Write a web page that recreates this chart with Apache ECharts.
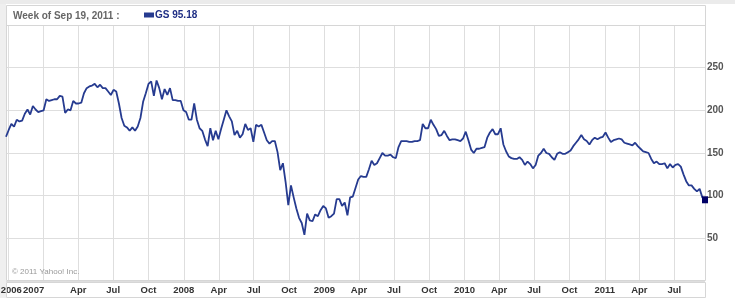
<!DOCTYPE html>
<html><head><meta charset="utf-8">
<script src="https://cdn.jsdelivr.net/npm/echarts@6/dist/echarts.min.js"></script>
<style>html,body{margin:0;padding:0;background:#fff}#c{width:735px;height:298px}</style>
</head><body><div id="c"></div>
<script>
const ticker = 'GS';
const headerLabel = 'Week of Sep 19, 2011 :';
const copyright = '\u00a9 2011 Yahoo! Inc.';
const startDate = '2006-09-25';
const endDate = '2011-09-19';
const closes = [
169,177,184,181,189,187,188,196,201,195,
205,201,198,199,200,213,211,212,213,213,
217,216,197,201,200,211,208,208,209,220,
226,228,229,231,227,230,226,226,222,218,
224,222,208,191,182,180,176,180,176,181,
191,210,220,231,234,217,235,226,213,225,
218,226,212,212,211,211,200,198,189,189,
208,189,179,176,166,158,179,165,176,166,
178,189,200,193,187,171,176,168,172,184,
177,179,163,183,181,183,174,165,161,164,
164,151,130,138,116,89,112,98,85,74,
68,54,79,71,70,78,76,83,88,85,
74,76,79,96,96,88,92,77,98,99,
109,119,123,122,122,131,141,136,138,144,
150,147,147,148,145,144,157,164,164,164,
163,163,164,164,165,184,179,179,189,183,
178,170,171,176,170,165,166,166,165,164,
167,175,165,154,150,155,155,156,157,168,
174,178,172,172,179,160,152,146,144,143,
143,145,142,136,140,137,132,136,147,150,
155,150,149,145,142,149,151,149,149,151,
153,158,162,166,171,166,164,160,165,168,
166,168,169,174,168,163,165,166,167,166,
162,161,160,159,162,158,155,152,151,150,
143,138,140,137,137,138,132,137,133,136,
137,134,125,117,112,112,108,105,108,98,
95.18
];
const tickDates = ['2006-10-01','2007-01-01','2007-04-01','2007-07-01','2007-10-01','2008-01-01','2008-04-01','2008-07-01','2008-10-01','2009-01-01','2009-04-01','2009-07-01','2009-10-01','2010-01-01','2010-04-01','2010-07-01','2010-10-01','2011-01-01','2011-04-01','2011-07-01'];
const tickLabels = ['2006','2007','Apr','Jul','Oct','2008','Apr','Jul','Oct','2009','Apr','Jul','Oct','2010','Apr','Jul','Oct','2011','Apr','Jul'];
const yMin = 0, yMax = 300, yStep = 50;

function ts(s){const p=s.split('-').map(Number);return Date.UTC(p[0],p[1]-1,p[2]);}
const DAY = 86400000;
const t0 = ts(startDate);
const last = closes.length - 1;
const seriesData = closes.map((v,i)=>{
  const item = {value:[t0 + i*7*DAY, v]};
  if (i === last) { item.symbol = 'rect'; item.symbolSize = [6,7]; item.itemStyle = {color:'#000066',borderWidth:0}; }
  return item;
});
const tickTs = tickDates.map(ts);
const labelMap = {};
tickTs.forEach((t,i)=>{ labelMap[t] = tickLabels[i]; });
const seriesName = ticker + ' ' + closes[last].toFixed(2);
const FONT = 'Liberation Sans, Arial, sans-serif';
const XFS = 9.5;

const chart = echarts.init(document.getElementById('c'), null, {renderer:'canvas'});
chart.setOption({
  animation:false,
  backgroundColor:'#fff',
  title:{text:headerLabel,left:13,top:10,padding:0,
    textStyle:{color:'#666',fontSize:10,fontWeight:'bold',fontFamily:FONT,lineHeight:12}},
  legend:{left:144,top:10,padding:0,itemWidth:10,itemHeight:5,itemGap:0,
    data:[{name:seriesName,icon:'rect'}],
    textStyle:{color:'#1f2f85',fontSize:10,fontWeight:'bold',fontFamily:FONT,padding:[0,0,0,-4]}},
  grid:{left:6,right:30,top:25,bottom:17,containLabel:false,outerBoundsMode:'none'},
  xAxis:{type:'value',min:t0,max:ts(endDate),scale:true,
    axisLine:{show:false},
    axisTick:{show:false,customValues:tickTs},
    splitLine:{show:true,lineStyle:{color:'#dedede',width:1}},
    axisLabel:{customValues:tickTs,showMinLabel:true,showMaxLabel:true,hideOverlap:false,
      margin:4,color:'#333',fontSize:XFS,fontWeight:'bold',fontFamily:FONT,
      formatter:function(v){
        const l = labelMap[v];
        if (l === undefined) return '';
        if (v === tickTs[0]) return '{a|'+l+'}';
        if (v === tickTs[1]) return '{b|'+l+'}';
        return l;
      },
      rich:{a:{padding:[0,0,0,6],color:'#333',fontSize:XFS,fontWeight:'bold',fontFamily:FONT},
            b:{padding:[0,20,0,0],color:'#333',fontSize:XFS,fontWeight:'bold',fontFamily:FONT}}
    }},
  yAxis:{type:'value',position:'right',min:yMin,max:yMax,interval:yStep,
    axisLine:{show:false},axisTick:{show:false},
    splitLine:{show:true,lineStyle:{color:'#dedede',width:1}},
    axisLabel:{margin:2,color:'#555',fontSize:10,fontWeight:'bold',fontFamily:FONT,
      formatter:function(v){return (v===yMin||v===yMax)?'':String(v);}}},
  series:[{name:seriesName,type:'line',data:seriesData,symbol:'none',showSymbol:true,showAllSymbol:true,clip:false,
    lineStyle:{color:'#263b90',width:1.8},itemStyle:{color:'#263b90'},z:20}],
  graphic:[
    {type:'rect',shape:{x:0,y:0,width:6,height:298},style:{fill:'#efefef'},z:-10,silent:true},
    {type:'rect',shape:{x:0,y:0,width:735,height:4},style:{fill:'#ebebeb'},z:-10,silent:true},
    {type:'rect',shape:{x:6.5,y:5.5,width:699,height:275},style:{fill:null,stroke:'#d6d6d6',lineWidth:1},z:10,silent:true},
    {type:'line',shape:{x1:6,y1:25.5,x2:706,y2:25.5},style:{stroke:'#d6d6d6',lineWidth:1},z:10,silent:true},
    {type:'rect',shape:{x:6.5,y:282.5,width:699,height:15},style:{fill:null,stroke:'#d6d6d6',lineWidth:1},z:10,silent:true},
    {type:'text',left:12,top:268,style:{text:copyright,fill:'#999',font:'8px '+FONT},z:10,silent:true}
  ]
});
</script></body></html>
